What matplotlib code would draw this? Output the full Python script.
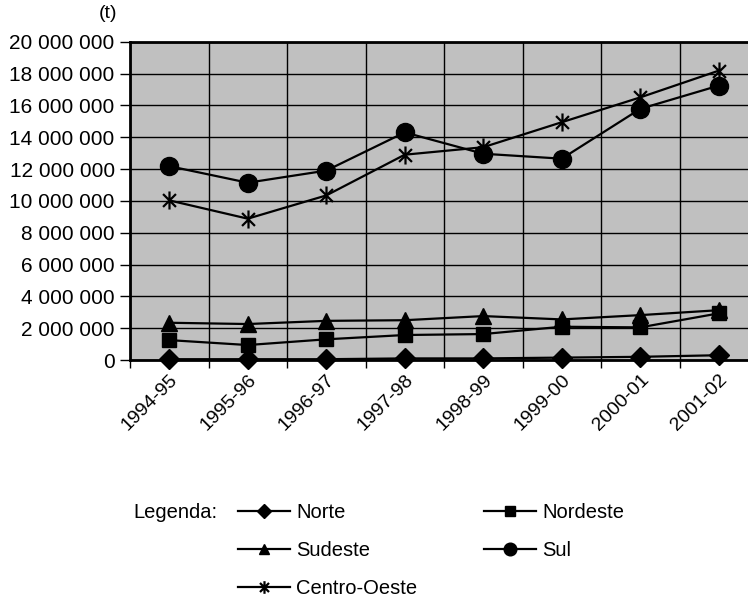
import matplotlib.pyplot as plt
import numpy as np
from matplotlib.path import Path

plt.rcParams['font.family'] = ['Liberation Sans', 'DejaVu Sans']

anos = ["1994-95", "1995-96", "1996-97", "1997-98", "1998-99", "1999-00", "2000-01", "2001-02"]
norte = [50000, 50000, 50000, 100000, 100000, 150000, 200000, 300000]
nordeste = [1250000, 940000, 1300000, 1570000, 1630000, 2090000, 2050000, 2930000]
sudeste = [2340000, 2260000, 2460000, 2500000, 2760000, 2550000, 2820000, 3130000]
sul = [12180000, 11140000, 11900000, 14300000, 12960000, 12650000, 15780000, 17240000]
centro_oeste = [10030000, 8880000, 10340000, 12900000, 13370000, 14940000, 16500000, 18180000]

# Excel style star: X with a vertical bar
star = Path([(-0.5, -0.5), (0.5, 0.5), (-0.5, 0.5), (0.5, -0.5), (0, -0.7), (0, 0.7)],
            [Path.MOVETO, Path.LINETO, Path.MOVETO, Path.LINETO, Path.MOVETO, Path.LINETO])

fig = plt.figure(figsize=(7.48, 6), dpi=100)
ax = fig.add_axes([130/748, 240/600, 628/748, 318.3/600])
ax.set_facecolor('#C0C0C0')

x = np.arange(len(anos))
series = [
    ("Norte", norte, dict(marker='D', markersize=10)),
    ("Nordeste", nordeste, dict(marker='s', markersize=10)),
    ("Sudeste", sudeste, dict(marker='^', markersize=11)),
    ("Sul", sul, dict(marker='o', markersize=13)),
    ("Centro-Oeste", centro_oeste, dict(marker=star, markersize=13, markeredgewidth=1.6,
                                         markerfacecolor='none')),
]
handles = {}
for nome, vals, st in series:
    h, = ax.plot(x, vals, color='black', lw=1.6, markeredgecolor='black',
                 clip_on=False, zorder=3, **st)
    handles[nome] = h

ax.set_xlim(-0.5, 7.5)
ax.set_ylim(0, 20000000)
yt = np.arange(0, 20000001, 2000000)
ax.set_yticks(yt)
ax.set_yticklabels([f"{v:,}".replace(",", " ") for v in yt])
ax.set_xticks(x)
ax.set_xticklabels(anos, rotation=45, ha='right', va='top', rotation_mode='anchor')
ax.set_xticks(np.arange(-0.5, 8, 1), minor=True)
ax.tick_params(axis='x', which='major', length=0, pad=8, labelsize=14)
ax.tick_params(axis='x', which='minor', length=6, width=1, color='black')
ax.tick_params(axis='y', length=7, width=1, pad=4, labelsize=15)
ax.grid(axis='y', color='black', lw=1)
ax.grid(axis='x', which='minor', color='black', lw=1)
ax.set_axisbelow(True)
for s in ['top', 'left', 'bottom']:
    ax.spines[s].set_linewidth(2)
ax.spines['right'].set_visible(False)

fig.text(108/748, 1 - 13/600, "(t)", fontsize=14, ha='center', va='center')
fig.text(133/748, 1 - 512/600, "Legenda:", fontsize=14.5, ha='left', va='center')

order = ["Norte", "Sudeste", "Centro-Oeste", "Nordeste", "Sul"]
fig.legend([handles[n] for n in order], order, loc='upper left',
           bbox_to_anchor=(238/748, 1 - 503/600), ncol=2, frameon=False,
           fontsize=14.5, handlelength=2.6, handletextpad=0.3, columnspacing=3.3,
           labelspacing=0.95, borderpad=0, borderaxespad=0, markerscale=0.7)

fig.savefig("out.png", dpi=100)
